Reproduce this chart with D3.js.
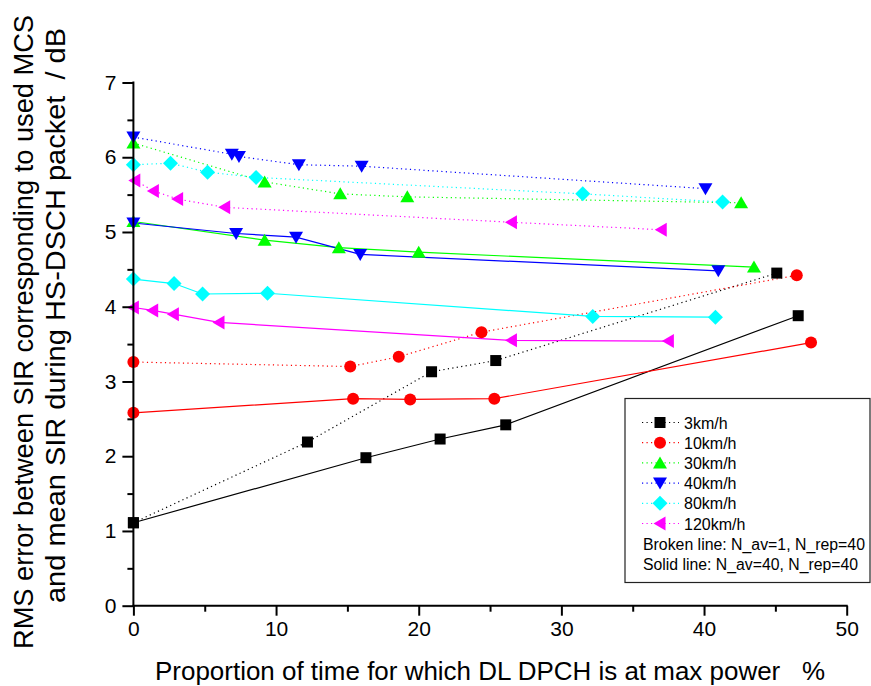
<!DOCTYPE html>
<html>
<head>
<meta charset="utf-8">
<script src="https://cdn.jsdelivr.net/npm/d3@7"></script>
<style>
  html, body { margin: 0; padding: 0; background: #fff; }
  svg text { font-family: Arial, "Liberation Sans", sans-serif; }
</style>
</head>
<body>
<svg id="chart" width="871" height="686"></svg>
<script>
// Speed labels for the six UE speeds
const speeds = ["3km/h", "10km/h", "30km/h", "40km/h", "80km/h", "120km/h"];

// Broken line: N_av=1, N_rep=40  (x = % time DPCH at max power, y = RMS error dB)
const brokenX3   = [0, 12.2, 20.9, 25.4, 45.1];
const brokenY3   = [1.11, 2.19, 3.13, 3.28, 4.45];
const brokenX10  = [0, 15.2, 18.6, 24.4, 46.5];
const brokenY10  = [3.26, 3.20, 3.33, 3.66, 4.42];
const brokenX30  = [0, 9.2, 14.5, 19.2, 42.6];
const brokenY30  = [6.19, 5.67, 5.51, 5.47, 5.39];
const brokenX40  = [0, 6.9, 7.4, 11.6, 16.0, 40.1];
const brokenY40  = [6.27, 6.04, 6.01, 5.90, 5.88, 5.58];
const brokenX80  = [0, 2.6, 5.2, 8.6, 31.5, 41.3];
const brokenY80  = [5.90, 5.92, 5.80, 5.73, 5.51, 5.40];
const brokenX120 = [0.1, 1.4, 3.1, 6.4, 26.5, 37.0];
const brokenY120 = [5.69, 5.55, 5.44, 5.33, 5.13, 5.03];

// Solid line: N_av=40, N_rep=40
const solidX3   = [0, 16.3, 21.5, 26.1, 46.6];
const solidY3   = [1.11, 1.98, 2.23, 2.42, 3.88];
const solidX10  = [0, 15.4, 19.4, 25.3, 47.5];
const solidY10  = [2.58, 2.77, 2.76, 2.77, 3.52];
const solidX30  = [0, 9.2, 14.4, 20.0, 43.5];
const solidY30  = [5.14, 4.89, 4.79, 4.73, 4.53];
const solidX40  = [0, 7.2, 11.4, 15.9, 41.0];
const solidY40  = [5.12, 4.98, 4.93, 4.70, 4.48];
const solidX80  = [0, 2.85, 4.85, 9.4, 32.2, 40.8];
const solidY80  = [4.37, 4.31, 4.17, 4.18, 3.87, 3.86];
const solidX120 = [0, 1.35, 2.8, 6.0, 26.5, 37.5];
const solidY120 = [3.99, 3.95, 3.90, 3.79, 3.55, 3.54];

// Axis ticks
const xTicks = [0, 10, 20, 30, 40, 50];
const xMinorTicks = [5, 15, 25, 35, 45];
const yTicks = [0, 1, 2, 3, 4, 5, 6, 7];
const yMinorTicks = [0.5, 1.5, 2.5, 3.5, 4.5, 5.5, 6.5];

const legendNotes = ["Broken line: N_av=1, N_rep=40", "Solid line: N_av=40, N_rep=40"];
const xTitle = "Proportion of time for which DL DPCH is at max power   %";
const yTitleLines = ["RMS error between SIR corresponding to used MCS",
                     "and mean SIR during HS-DSCH packet  / dB"];

const colors = ["#000000", "#ff0000", "#00ff00", "#0000ff", "#00ffff", "#ff00ff"];
const shapes = ["square", "circle", "triUp", "triDown", "diamond", "triLeft"];

const zip = (xs, ys) => xs.map((v, i) => [v, ys[i]]);
const broken = [
  zip(brokenX3, brokenY3), zip(brokenX10, brokenY10), zip(brokenX30, brokenY30),
  zip(brokenX40, brokenY40), zip(brokenX80, brokenY80), zip(brokenX120, brokenY120)
];
const solid = [
  zip(solidX3, solidY3), zip(solidX10, solidY10), zip(solidX30, solidY30),
  zip(solidX40, solidY40), zip(solidX80, solidY80), zip(solidX120, solidY120)
];

const svg = d3.select("#chart");
const plotLeft = 133.4, plotRight = 846.7, plotTop = 82.5, plotBottom = 605.7;

const x = d3.scaleLinear().domain([0, 50]).range([plotLeft, plotRight]);
const y = d3.scaleLinear().domain([0, 7]).range([plotBottom, plotTop]);

// Marker path builder
function markerPath(shape) {
  switch (shape) {
    case "square":  return "M-5.5,-5.5H5.5V5.5H-5.5Z";
    case "circle":  return "M6,0A6,6 0 1,1 -6,0A6,6 0 1,1 6,0Z";
    case "triUp":   return "M0,-6.5L7,5.5L-7,5.5Z";
    case "triDown": return "M0,6.5L7,-5.5L-7,-5.5Z";
    case "diamond": return "M0,-7.5L7.5,0L0,7.5L-7.5,0Z";
    case "triLeft": return "M-6.5,0L5.5,-7L5.5,7Z";
  }
}

const line = d3.line().x(d => x(d[0])).y(d => y(d[1]));
const plot = svg.append("g");

// Lines
[broken, solid].forEach((group, gi) => {
  group.forEach((pts, si) => {
    plot.append("path")
      .attr("d", line(pts))
      .attr("fill", "none")
      .attr("stroke", colors[si])
      .attr("stroke-width", 1.2)
      .attr("stroke-dasharray", gi === 0 ? "1.2,3.3" : null);
  });
});

// Markers
[broken, solid].forEach(group => {
  group.forEach((pts, si) => {
    plot.selectAll(null).data(pts).enter().append("path")
      .attr("d", markerPath(shapes[si]))
      .attr("transform", d => `translate(${x(d[0])},${y(d[1])})`)
      .attr("fill", colors[si]);
  });
});

// Axes
const axisFont = 21;
const gx = svg.append("g").attr("transform", `translate(0,${plotBottom})`);
gx.call(d3.axisBottom(x).tickValues(xTicks).tickSize(10).tickPadding(5).tickFormat(d3.format("d")));
gx.append("g").call(d3.axisBottom(x).tickValues(xMinorTicks).tickSize(6).tickFormat(""));
gx.selectAll(".domain").remove();
gx.append("line").attr("x1", plotLeft - 1).attr("x2", plotRight + 1).attr("stroke", "#000").attr("stroke-width", 2);

const gy = svg.append("g").attr("transform", `translate(${plotLeft},0)`);
gy.call(d3.axisLeft(y).tickValues(yTicks).tickSize(11).tickPadding(6).tickFormat(d3.format("d")));
gy.append("g").call(d3.axisLeft(y).tickValues(yMinorTicks).tickSize(6).tickFormat(""));
gy.selectAll(".domain").remove();
gy.append("line").attr("y1", plotTop - 1).attr("y2", plotBottom + 1).attr("stroke", "#000").attr("stroke-width", 2);

svg.selectAll(".tick line").attr("stroke", "#000").attr("stroke-width", 2);
svg.selectAll(".tick text").attr("font-size", axisFont).attr("fill", "#000")
  .style("font-family", "Arial, 'Liberation Sans', sans-serif");

// Axis titles
svg.append("text")
  .attr("x", 490).attr("y", 680)
  .attr("text-anchor", "middle")
  .attr("font-size", 25)
  .attr("textLength", 670)
  .attr("lengthAdjust", "spacingAndGlyphs")
  .style("white-space", "pre")
  .text(xTitle);

const yTitle = [[33, 332, 634], [65, 315.5, 575]];
yTitleLines.forEach((t, i) => {
  svg.append("text")
    .attr("transform", `translate(${yTitle[i][0]},${yTitle[i][1]}) rotate(-90)`)
    .attr("text-anchor", "middle")
    .attr("font-size", 27)
    .attr("textLength", yTitle[i][2])
    .attr("lengthAdjust", "spacingAndGlyphs")
    .style("white-space", "pre")
    .text(t);
});

// Legend
const lg = svg.append("g");
lg.append("rect")
  .attr("x", 625).attr("y", 398.5).attr("width", 245).attr("height", 184)
  .attr("fill", "#fff").attr("stroke", "#222").attr("stroke-width", 1.2);

speeds.forEach((s, i) => {
  const ry = 422.5 + i * 20.2;
  lg.append("line")
    .attr("x1", 642).attr("x2", 679).attr("y1", ry).attr("y2", ry)
    .attr("stroke", colors[i]).attr("stroke-width", 1.2).attr("stroke-dasharray", "1.2,3.3");
  lg.append("path")
    .attr("d", markerPath(shapes[i]))
    .attr("transform", `translate(660,${ry})`)
    .attr("fill", colors[i]);
  lg.append("text")
    .attr("x", 684).attr("y", ry + 6)
    .attr("font-size", 16)
    .text(s);
});
legendNotes.forEach((t, i) => {
  lg.append("text")
    .attr("x", 643).attr("y", 550 + i * 20)
    .attr("font-size", 16)
    .attr("textLength", i === 0 ? 222 : 215)
    .attr("lengthAdjust", "spacingAndGlyphs")
    .text(t);
});
</script>
</body>
</html>
